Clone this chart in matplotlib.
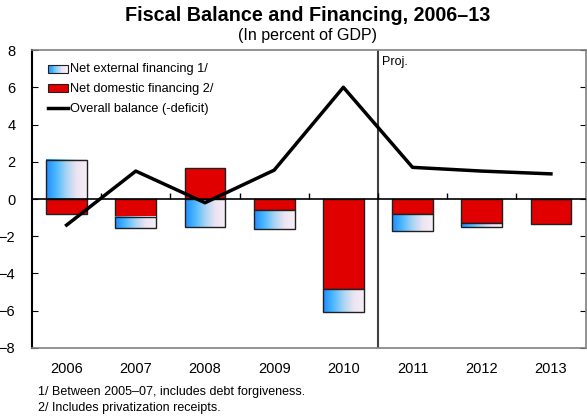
import numpy as np
import matplotlib.pyplot as plt
from matplotlib.colors import LinearSegmentedColormap
from matplotlib.patches import Rectangle
from matplotlib.legend_handler import HandlerBase

plt.rcParams['font.family'] = ['Liberation Sans', 'DejaVu Sans']

years = ['2006', '2007', '2008', '2009', '2010', '2011', '2012', '2013']
external = np.array([2.1, -0.6, -1.5, -1.0, -1.2, -0.9, -0.2, 0.0])
domestic = np.array([-0.8, -0.95, 1.65, -0.6, -4.85, -0.8, -1.3, -1.35])
balance = np.array([-1.4, 1.5, -0.2, 1.55, 6.0, 1.7, 1.5, 1.35])

blue_grad = LinearSegmentedColormap.from_list(
    'bluefade', ['#1E8CFF', '#4DB8FF', '#A8D4F2', '#EDE4F2', '#F6EEF6'])
red = '#E00000'

x = np.arange(len(years))
width = 0.59

fig = plt.figure(figsize=(5.87, 4.17), dpi=100)
ax = fig.add_axes([0.0545, 0.1655, 0.943, 0.7145])

# external part stacks on the domestic part when they share a sign
ext_bottom = np.where(np.sign(external) == np.sign(domestic), domestic, 0.0)

ax.bar(x, domestic, width, color=red, edgecolor='#202020', linewidth=1, zorder=2)
ext_bars = ax.bar(x, external, width, bottom=ext_bottom, facecolor='none',
                  edgecolor='#202020', linewidth=1, zorder=4)

grad = np.linspace(0, 1, 256).reshape(1, -1)
for b in ext_bars:
    x0, y0 = b.get_x(), b.get_y()
    w, h = b.get_width(), b.get_height()
    if h == 0:
        continue
    ax.imshow(grad, cmap=blue_grad, aspect='auto', interpolation='bicubic',
              extent=[x0, x0 + w, min(y0, y0 + h), max(y0, y0 + h)], zorder=3)

ax.axhline(0, color='black', linewidth=1.2, zorder=5)
ax.plot(x[:-1] + 0.5, np.zeros(len(x) - 1), linestyle='none', marker=2,
        markersize=4, color='black', markeredgewidth=1, zorder=5)

ax.plot(x, balance, color='black', linewidth=2.5, zorder=6)

ax.axvline(4.5, color='#404040', linewidth=1.5, zorder=1)
ax.text(4.56, 7.7, 'Proj.', fontsize=9, va='top', ha='left')

ax.set_xlim(-0.5, 7.5)
ax.set_ylim(-8, 8)
ax.set_yticks(np.arange(-8, 9, 2))
ax.set_xticks(x)
ax.set_xticklabels(years)
ax.tick_params(axis='x', length=0, pad=10, labelsize=10.5)
ax.tick_params(axis='y', direction='in', length=4, labelsize=10.5,
               right=True, pad=12)
ax.spines['left'].set_color('black')
ax.spines['left'].set_linewidth(1.5)
for s in ['top', 'right', 'bottom']:
    ax.spines[s].set_color('#808080')
    ax.spines[s].set_linewidth(1.2)


class GradientHandler(HandlerBase):
    def create_artists(self, legend, orig_handle, xdescent, ydescent,
                       width, height, fontsize, trans):
        artists = []
        n = 12
        for i in range(n):
            r = Rectangle((xdescent + width * i / n, ydescent), width / n, height,
                          facecolor=blue_grad(i / (n - 1)), edgecolor='none',
                          transform=trans)
            artists.append(r)
        artists.append(Rectangle((xdescent, ydescent), width, height,
                                 facecolor='none', edgecolor='#202020',
                                 linewidth=0.8, transform=trans))
        return artists


ext_handle = Rectangle((0, 0), 1, 1)
dom_handle = Rectangle((0, 0), 1, 1, facecolor=red, edgecolor='#202020', linewidth=0.8)
line_handle = plt.Line2D([], [], color='black', linewidth=2.5)
ax.legend([ext_handle, dom_handle, line_handle],
          ['Net external financing 1/', 'Net domestic financing 2/',
           'Overall balance (-deficit)'],
          handler_map={ext_handle: GradientHandler()},
          loc='upper left', bbox_to_anchor=(0.012, 0.985), frameon=False,
          fontsize=9.2, handlelength=1.6, handleheight=0.6, handletextpad=0.12,
          labelspacing=0.62, borderaxespad=0.3)

fig.text(0.525, 0.985, 'Fiscal Balance and Financing, 2006\u201313',
         ha='center', va='top', fontsize=14.2, fontweight='bold')
fig.text(0.523, 0.932, '(In percent of GDP)', ha='center', va='top', fontsize=11.5)

fig.text(0.064, 0.06, '1/ Between 2005\u201307, includes debt forgiveness.',
         fontsize=9, va='center')
fig.text(0.064, 0.022, '2/ Includes privatization receipts.',
         fontsize=9, va='center')

fig.savefig('out.png', dpi=100)
